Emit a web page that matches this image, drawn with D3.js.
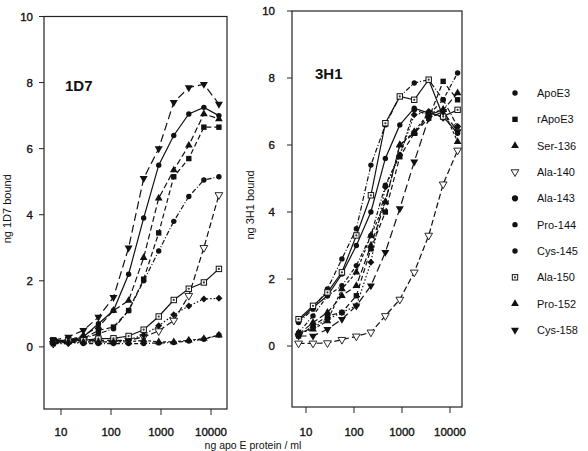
<!DOCTYPE html>
<html>
<head>
<meta charset="utf-8">
<script src="https://cdn.jsdelivr.net/npm/d3@7"></script>
<style>
  body { margin: 0; background: #fff; }
  svg { font-family: "Liberation Sans", Arial, sans-serif; }
</style>
</head>
<body>
<svg id="chart" width="588" height="451"></svg>
<script>
'use strict';

/* apo E concentration (ng/ml), doubling dilutions */
const concentrations = [7, 14, 28, 56, 112, 225, 450, 900, 1800, 3600, 7200, 14400];

const seriesNames = ['ApoE3', 'rApoE3', 'Ser-136', 'Ala-140', 'Ala-143',
                     'Pro-144', 'Cys-145', 'Ala-150', 'Pro-152', 'Cys-158'];

const yTicks = [0, 2, 4, 6, 8, 10];
const xTicks = [10, 100, 1000, 10000];

/* ng 1D7 bound, one row per series (same order as seriesNames) */
const values1D7 = [
  [0.10, 0.20, 0.30, 0.70, 1.10, 2.20, 3.90, 5.50, 6.40, 7.05, 7.25, 7.00],
  [0.10, 0.20, 0.25, 0.50, 0.60, 1.10, 2.05, 3.45, 5.15, 5.70, 6.65, 6.65],
  [0.15, 0.20, 0.35, 0.60, 1.10, 1.40, 2.70, 4.50, 5.35, 6.10, 7.05, 6.90],
  [0.10, 0.15, 0.20, 0.20, 0.20, 0.20, 0.30, 0.48, 0.80, 1.55, 3.00, 4.60],
  [0.10, 0.20, 0.25, 0.40, 0.55, 1.10, 2.00, 2.90, 3.80, 4.55, 5.05, 5.15],
  [0.10, 0.10, 0.15, 0.15, 0.15, 0.21, 0.36, 0.64, 0.97, 1.24, 1.45, 1.47],
  [0.20, 0.15, 0.10, 0.10, 0.10, 0.10, 0.10, 0.12, 0.13, 0.18, 0.23, 0.36],
  [0.20, 0.20, 0.20, 0.25, 0.26, 0.33, 0.52, 0.92, 1.42, 1.76, 1.95, 2.36],
  [0.15, 0.15, 0.15, 0.15, 0.15, 0.15, 0.20, 0.15, 0.15, 0.20, 0.25, 0.35],
  [0.20, 0.30, 0.50, 0.90, 1.50, 3.00, 5.10, 6.00, 7.40, 7.85, 7.95, 7.35]
];

/* ng 3H1 bound, one row per series (same order as seriesNames) */
const values3H1 = [
  [0.75, 1.15, 1.50, 2.15, 3.00, 4.00, 5.60, 6.60, 7.10, 6.95, 6.85, 6.35],
  [0.30, 0.60, 0.90, 1.00, 1.50, 2.90, 4.00, 5.65, 6.35, 6.80, 7.90, 7.35],
  [0.35, 0.70, 1.00, 1.50, 1.80, 3.00, 4.30, 6.00, 6.35, 6.90, 7.05, 7.55],
  [0.08, 0.08, 0.09, 0.19, 0.29, 0.41, 0.90, 1.39, 2.20, 3.30, 4.83, 5.84],
  [0.70, 1.10, 1.70, 2.60, 3.50, 5.40, 6.60, 7.45, 7.85, 7.95, 7.35, 6.55],
  [0.35, 0.55, 0.80, 1.00, 1.20, 2.50, 4.75, 5.70, 6.90, 7.00, 6.80, 6.55],
  [0.40, 0.90, 1.50, 1.80, 2.40, 3.30, 4.80, 5.70, 7.05, 6.90, 7.35, 8.15],
  [0.80, 1.20, 1.60, 2.20, 3.30, 4.50, 6.65, 7.45, 7.35, 7.95, 6.85, 7.05],
  [0.40, 0.50, 0.75, 1.70, 2.20, 3.30, 4.30, 6.00, 6.40, 6.95, 7.05, 6.10],
  [0.30, 0.30, 0.50, 0.80, 1.20, 1.80, 2.80, 4.10, 5.50, 6.80, 7.00, 6.40]
];

/* marker and line style of every series */
const plotShapes   = ['circle', 'square', 'triangle', 'triOpen', 'circle',
                      'diamond', 'circle', 'squareDot', 'triangle', 'triDown'];
const legendShapes = ['circle', 'square', 'triangle', 'triOpen', 'circleBig',
                      'circle', 'circle', 'squareDot', 'triangle', 'triDown'];
const dashes = [null, '5,3', '6,3', '6,3', '5,2,1,2',
                '1.5,2', '4,2,1,2', null, '3,2', '8,4'];

const panels = [
  { title: '1D7', ylabel: 'ng 1D7 bound', values: values1D7,
    left: 44, right: 227, top: 16.5, bottom: 409,
    xDomain: [4.57, 20893], yDomain: [-1.88, 10],
    titleX: 65, titleY: 91, labelRight: 33, ylabelX: 11 },
  { title: '3H1', ylabel: 'ng 3H1 bound', values: values3H1,
    left: 292, right: 462, top: 11, bottom: 407,
    xDomain: [5.11, 17783], yDomain: [-1.82, 10],
    titleX: 315, titleY: 79, labelRight: 275, ylabelX: 254 }
];

const svg = d3.select('#chart');

/* draw one marker of a given shape at the origin of the group g */
function drawMarker(g, shape){
  const sym = d3.symbol();
  switch(shape){
    case 'circle':
      g.append('circle').attr('r', 2.7).attr('fill', '#111');
      break;
    case 'circleBig':
      g.append('circle').attr('r', 3.1).attr('fill', '#111');
      break;
    case 'square':
      g.append('rect').attr('x', -2.7).attr('y', -2.7).attr('width', 5.4).attr('height', 5.4)
        .attr('fill', '#111');
      break;
    case 'squareDot':
      g.append('rect').attr('x', -2.7).attr('y', -2.7).attr('width', 5.4).attr('height', 5.4)
        .attr('fill', '#fff').attr('stroke', '#111').attr('stroke-width', 1);
      g.append('circle').attr('r', 1.1).attr('fill', '#333');
      break;
    case 'diamond':
      g.append('path').attr('d', 'M0,-3.5L3.5,0L0,3.5L-3.5,0Z').attr('fill', '#111');
      break;
    case 'triangle':
      g.append('path').attr('d', sym.type(d3.symbolTriangle).size(26)()).attr('fill', '#111');
      break;
    case 'triDown':
      g.append('path').attr('d', sym.type(d3.symbolTriangle).size(28)())
        .attr('transform', 'rotate(180)').attr('fill', '#111');
      break;
    case 'triOpen':
      g.append('path').attr('d', sym.type(d3.symbolTriangle).size(26)())
        .attr('transform', 'rotate(180)')
        .attr('fill', '#fff').attr('stroke', '#111').attr('stroke-width', 0.9);
      break;
  }
}

panels.forEach(p => {
  const x = d3.scaleLog().domain(p.xDomain).range([p.left, p.right]);
  const y = d3.scaleLinear().domain(p.yDomain).range([p.bottom, p.top]);
  const g = svg.append('g');

  /* frame */
  g.append('rect')
    .attr('x', p.left).attr('y', p.top)
    .attr('width', p.right - p.left).attr('height', p.bottom - p.top)
    .attr('fill', 'none').attr('stroke', '#222').attr('stroke-width', 1.2);

  /* y axis: ticks outside the frame, labels right aligned */
  yTicks.forEach(t => {
    g.append('line')
      .attr('x1', p.left - 5).attr('x2', p.left)
      .attr('y1', y(t)).attr('y2', y(t))
      .attr('stroke', '#222');
    g.append('text')
      .attr('x', p.labelRight).attr('y', y(t) + 4)
      .attr('text-anchor', 'end')
      .attr('font-size', 11.5).attr('fill', '#111')
      .attr('stroke', '#111').attr('stroke-width', 0.35)
      .text(t);
  });

  /* x axis below the frame */
  xTicks.forEach(t => {
    g.append('line')
      .attr('x1', x(t)).attr('x2', x(t))
      .attr('y1', p.bottom).attr('y2', p.bottom + 6)
      .attr('stroke', '#222');
    g.append('text')
      .attr('x', x(t)).attr('y', 436)
      .attr('text-anchor', 'middle')
      .attr('font-size', 11.5).attr('fill', '#111')
      .attr('stroke', '#111').attr('stroke-width', 0.35)
      .text(t);
  });

  /* y axis title */
  g.append('text')
    .attr('transform', 'translate(' + p.ylabelX + ',' + ((p.top + p.bottom) / 2 - 4) + ') rotate(-90)')
    .attr('text-anchor', 'middle')
    .attr('font-size', 11).attr('fill', '#111')
    .text(p.ylabel);

  /* panel title */
  g.append('text')
    .attr('x', p.titleX).attr('y', p.titleY)
    .attr('font-size', 15).attr('font-weight', 'bold').attr('fill', '#111')
    .text(p.title);

  /* curves */
  const line = d3.line()
    .x((d, i) => x(concentrations[i]))
    .y(d => y(d));

  p.values.forEach((vals, s) => {
    g.append('path')
      .attr('d', line(vals))
      .attr('fill', 'none')
      .attr('stroke', '#111')
      .attr('stroke-width', 1.2)
      .attr('stroke-dasharray', dashes[s]);
  });

  /* markers on top of the lines */
  p.values.forEach((vals, s) => {
    vals.forEach((v, i) => {
      const m = g.append('g')
        .attr('transform', 'translate(' + x(concentrations[i]) + ',' + y(v) + ')');
      drawMarker(m, plotShapes[s]);
    });
  });
});

/* legend */
const legendY = d3.scalePoint().domain(seriesNames).range([93, 330]);
seriesNames.forEach((name, i) => {
  const m = svg.append('g')
    .attr('transform', 'translate(515,' + legendY(name) + ')');
  drawMarker(m, legendShapes[i]);
  svg.append('text')
    .attr('x', 537).attr('y', legendY(name) + 4)
    .attr('font-size', 11).attr('fill', '#111')
    .text(name);
});

/* shared x axis title */
svg.append('text')
  .attr('x', 253).attr('y', 449)
  .attr('text-anchor', 'middle')
  .attr('font-size', 10.5).attr('fill', '#111')
  .text('ng apo E protein / ml');
</script>
</body>
</html>
